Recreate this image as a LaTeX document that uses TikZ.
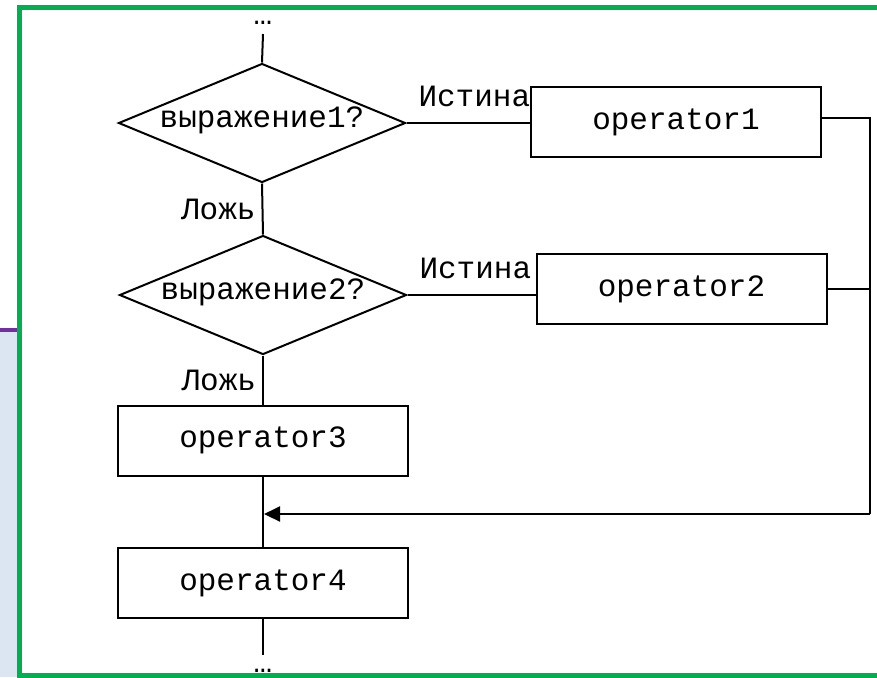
\documentclass[tikz,border=0pt]{standalone}
\usepackage{fontspec}
\setmonofont{Liberation Mono}
\usetikzlibrary{shapes.geometric,arrows.meta}
\definecolor{framegreen}{RGB}{0,176,80}
\definecolor{barpurple}{RGB}{112,48,160}
\definecolor{sidegray}{RGB}{220,230,242}

\begin{document}
\begin{tikzpicture}[x=0.5pt,y=-0.5pt,
  every node/.style={font=\ttfamily\fontsize{15.5pt}{18pt}\selectfont},
  opbox/.style={draw,line width=1pt,minimum width=145pt,minimum height=35pt,inner sep=0pt},
  cond/.style={draw,diamond,line width=1pt,shape aspect=2.4,minimum width=143.5pt,
    minimum height=59.5pt,inner sep=0pt,text height=1ex,text depth=0pt},
  flow/.style={line width=1pt},
  truelbl/.style={pos=0,anchor=south west,inner xsep=5.5pt,inner ysep=7.5pt},
  falselbl/.style={left,inner sep=3pt}]
\useasboundingbox (0,0) rectangle (877,677);
%% slide background
\fill[sidegray] (0,332) rectangle (17,677);
\fill[barpurple] (0,328) rectangle (17,332);
\draw[framegreen,line width=2.5pt] (19.5,7) rectangle (900,675.5);

%% blocks
\node[inner sep=1pt] (dotsin) at (263,23) {…};
\node[cond] (cond1) at (262,123) {выражение1?};
\node[cond] (cond2) at (263,295) {выражение2?};
\node[opbox] (op1) at (676,122) {operator1};
\node[opbox] (op2) at (681.5,289) {operator2};
\node[opbox] (op3) at (263,440.5) {operator3};
\node[opbox] (op4) at (263,583) {operator4};
\node[inner sep=1pt] (dotsout) at (263,671) {…};

\coordinate (start) at (263,34);
\coordinate (finish) at (263,655);
\coordinate (bus1) at (870,118);
\coordinate (bus2) at (870,289);
\coordinate (corner) at (870,514);
\coordinate (join) at (264,514);

%% connectors
\draw[flow] (start) -- (cond1.north);
\draw[flow] (cond1.south) -- node[falselbl]{Ложь} (cond2.north);
\draw[flow] (cond2.south) -- node[falselbl]{Ложь} (op3.north);
\draw[flow] (cond1.east) -- node[truelbl]{Истина} (cond1.east -| op1.west);
\draw[flow] (cond2.east) -- node[truelbl]{Истина} (cond2.east -| op2.west);
\draw[flow] (op3.south) -- (op4.north);
\draw[flow] (op4.south) -- (finish);

%% return line
\draw[flow] ([yshift=2pt]op1.east) -- (bus1) -- (corner);
\draw[flow] (op2.east) -- (bus2);
\draw[flow,-{Triangle[length=8pt,width=7.5pt]}] (corner) -- (join);

\end{tikzpicture}
\end{document}
